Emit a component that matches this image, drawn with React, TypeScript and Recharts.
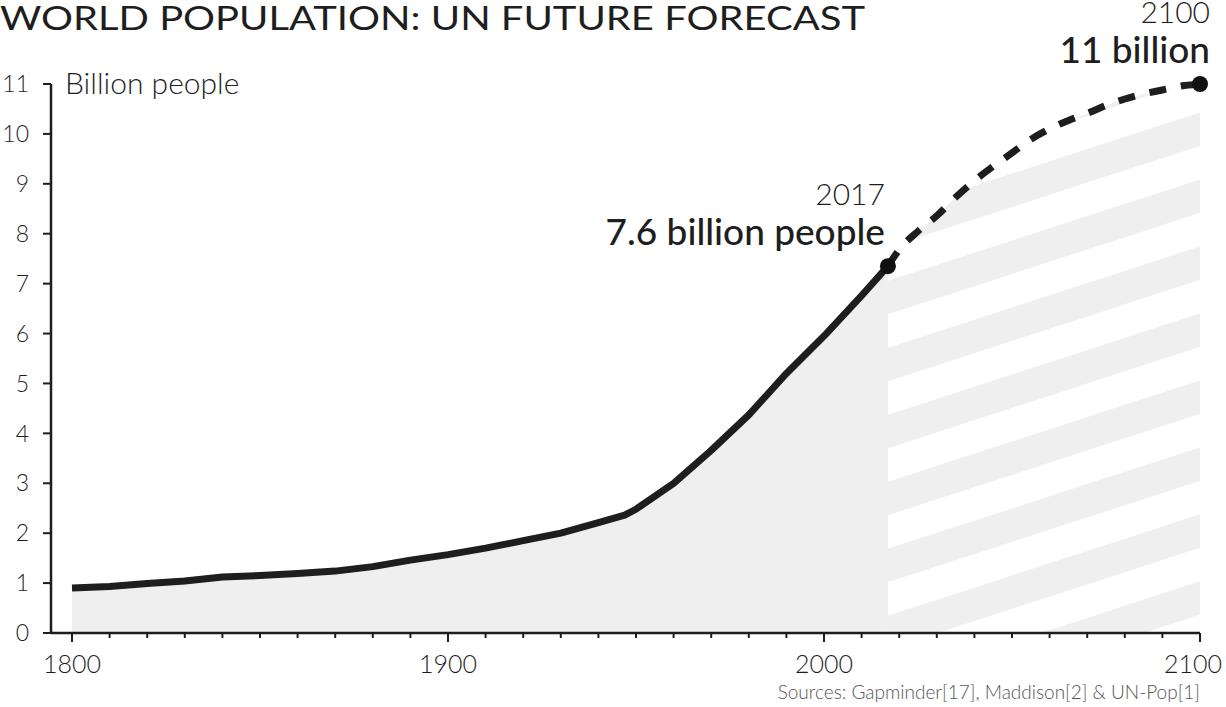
import React from "react";
import { ComposedChart, Area, XAxis, YAxis, ReferenceDot } from "recharts";

// historic world population (billions)
const histYears = [1800, 1810, 1820, 1830, 1840, 1850, 1860, 1870, 1880, 1890, 1900, 1910, 1920, 1930, 1940, 1947, 1950, 1960, 1970, 1980, 1990, 2000, 2010, 2017];
const histValues = [0.9, 0.93, 0.99, 1.04, 1.12, 1.15, 1.19, 1.24, 1.33, 1.46, 1.57, 1.7, 1.85, 2.0, 2.21, 2.36, 2.48, 3.0, 3.66, 4.37, 5.2, 5.95, 6.76, 7.35];

// UN forecast
const projYears = [2017, 2020, 2025, 2030, 2035, 2040, 2045, 2050, 2055, 2060, 2065, 2070, 2075, 2080, 2085, 2090, 2095, 2100];
const projValues = [7.35, 7.68, 8.05, 8.36, 8.73, 9.06, 9.35, 9.62, 9.89, 10.1, 10.27, 10.41, 10.57, 10.7, 10.8, 10.88, 10.96, 11.0];

const xTicks = [1800, 1810, 1820, 1830, 1840, 1850, 1860, 1870, 1880, 1890, 1900, 1910, 1920, 1930, 1940, 1950, 1960, 1970, 1980, 1990, 2000, 2010, 2020, 2030, 2040, 2050, 2060, 2070, 2080, 2090, 2100];
const xLabels = [1800, 1900, 2000, 2100];
const yTicks = [0, 1, 2, 3, 4, 5, 6, 7, 8, 9, 10, 11];

const FONT = "Lato, 'Open Sans', sans-serif";
const INK = "#1e1e1e";

const byYear = new Map<number, any>();
histYears.forEach((y, i) => byYear.set(y, { year: y, hist: histValues[i], proj: null }));
projYears.forEach((y, i) => {
  const row = byYear.get(y) || { year: y, hist: null };
  row.proj = projValues[i];
  byYear.set(y, row);
});
const data = Array.from(byYear.values()).sort((a, b) => a.year - b.year);

const XTick = (props: any) => {
  const { x, y, payload } = props;
  const major = xLabels.includes(payload.value);
  const last = payload.value === xLabels[xLabels.length - 1];
  return (
    <g>
      <line x1={x} x2={x} y1={y} y2={y + (major ? 9 : 5)} stroke={INK} strokeWidth={2} />
      {major && (
        <text
          x={last ? x + 22 : x}
          y={y + 40}
          textAnchor={last ? "end" : "middle"}
          fontSize={25}
          fontWeight={300}
          fill={INK}
          fontFamily={FONT}
        >
          {payload.value}
        </text>
      )}
    </g>
  );
};

const labelDot = (year: string, text: string, dx: number) => (p: any) => (
  <g>
    <circle cx={p.cx} cy={p.cy} r={8} fill="#111" />
    <text x={p.cx + dx} y={p.cy - 61} textAnchor="end" fontSize={30} fontWeight={300} fill={INK} fontFamily={FONT}>
      {year}
    </text>
    <text x={p.cx + dx} y={p.cy - 21} textAnchor="end" fontSize={37} fontWeight={500} fill={INK} fontFamily={FONT}>
      {text}
    </text>
  </g>
);

export default function App() {
  return (
    <div style={{ position: "relative", width: 1226, height: 707, background: "#fff", fontFamily: FONT }}>
      <style>{`body{margin:0}`}</style>
      <ComposedChart width={1226} height={707} data={data} margin={{ top: 84, right: 26, bottom: 0, left: 0 }}>
        <defs>
          <pattern id="stripes" patternUnits="userSpaceOnUse" width={64} height={63.7} patternTransform="rotate(-18)">
            <rect x={0} y={31.85} width={64} height={31.85} fill="#efefef" />
          </pattern>
        </defs>
        <XAxis
          dataKey="year"
          type="number"
          domain={[1800, 2100]}
          ticks={xTicks}
          interval={0}
          padding={{ left: 21, right: 0 }}
          height={74}
          tickSize={0}
          tickMargin={0}
          tickLine={false}
          axisLine={{ stroke: INK, strokeWidth: 2.5 }}
          tick={<XTick />}
        />
        <YAxis
          type="number"
          domain={[0, 11]}
          ticks={yTicks}
          interval={0}
          width={51}
          tickSize={8}
          tickMargin={14}
          axisLine={{ stroke: INK, strokeWidth: 2.5 }}
          tickLine={{ stroke: INK, strokeWidth: 2 }}
          tick={{ fontSize: 23, fontWeight: 300, fill: INK, fontFamily: FONT }}
        />
        <Area
          dataKey="proj"
          type="monotone"
          fill="url(#stripes)"
          fillOpacity={1}
          stroke={INK}
          strokeWidth={7}
          strokeDasharray="17 15"
          isAnimationActive={false}
          dot={false}
          activeDot={false}
        />
        <Area
          dataKey="hist"
          type="linear"
          fill="#efefef"
          fillOpacity={1}
          stroke={INK}
          strokeWidth={7}
          strokeLinejoin="round"
          isAnimationActive={false}
          dot={false}
          activeDot={false}
        />
        <ReferenceDot x={2017} y={7.35} r={8} ifOverflow="visible" shape={labelDot("2017", "7.6 billion people", -3)} />
        <ReferenceDot x={2100} y={11} r={8} ifOverflow="visible" shape={labelDot("2100", "11 billion", 10)} />
      </ComposedChart>
      <svg width={1226} height={707} style={{ position: "absolute", left: 0, top: 0, pointerEvents: "none" }}>
        <text x={0} y={30} fontSize={33} fill={INK} fontFamily={FONT} textLength={865} lengthAdjust="spacingAndGlyphs">
          WORLD POPULATION: UN FUTURE FORECAST
        </text>
        <text x={65} y={94} fontSize={30} fontWeight={300} fill={INK} fontFamily={FONT}>
          Billion people
        </text>
        <text x={1200} y={699} textAnchor="end" fontSize={19} fontWeight={300} fill="#555" fontFamily={FONT}>
          Sources: Gapminder[17], Maddison[2] &amp; UN-Pop[1]
        </text>
      </svg>
    </div>
  );
}
